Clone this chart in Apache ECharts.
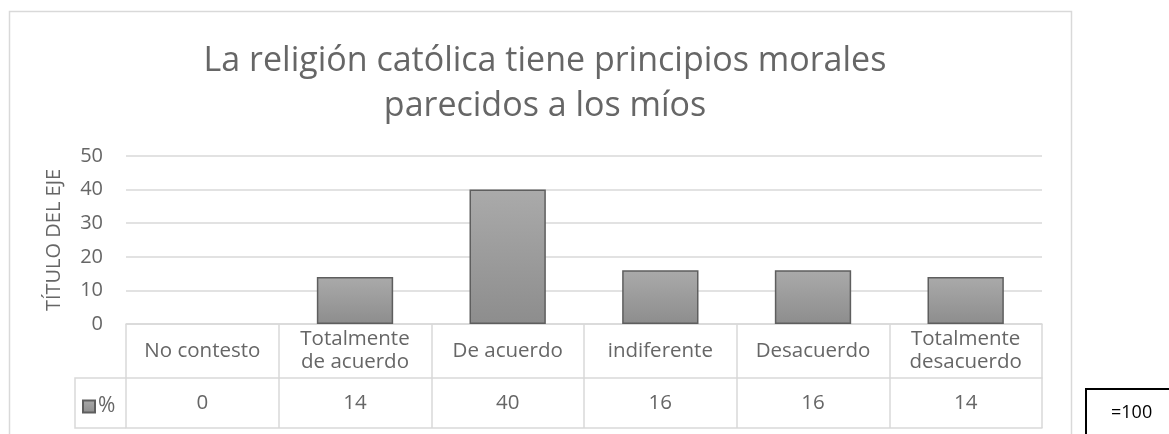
<!DOCTYPE html>
<html>
<head>
<meta charset="utf-8">
<script src="https://cdn.jsdelivr.net/npm/echarts@6/dist/echarts.min.js"></script>
<style>
  html, body { margin: 0; padding: 0; background: #fff; }
  #chart { width: 1169px; height: 434px; }
</style>
</head>
<body>
<div id="chart"></div>
<script>
// datos del gráfico
const categories = ['No contesto', 'Totalmente\nde acuerdo', 'De acuerdo', 'indiferente', 'Desacuerdo', 'Totalmente\ndesacuerdo']
const values = [0, 14, 40, 16, 16, 14]
const seriesName = '%'
const yTicks = { min: 0, max: 50, interval: 10 }

const FONT = '"Open Sans", sans-serif'
const TEXT = '#666666'
const LINE = '#d9d9d9'

const chart = echarts.init(document.getElementById('chart'))

// barras con valor 0 no se dibujan (sin borde)
const barData = values.map(v => (v === 0 ? { value: v, itemStyle: { borderWidth: 0 } } : v))

const option = {
  animation: false,
  title: {
    text: 'La religión católica tiene principios morales\nparecidos a los míos',
    left: 540,
    textAlign: 'center',
    top: 34,
    textStyle: {
      fontFamily: FONT,
      fontSize: 34,
      fontWeight: 'normal',
      color: TEXT,
      lineHeight: 45
    }
  },
  legend: {
    data: [seriesName],
    left: 82,
    top: 396,
    padding: 0,
    icon: 'rect',
    itemWidth: 12,
    itemHeight: 12,
    itemGap: 4,
    textStyle: { fontFamily: FONT, fontSize: 21, color: TEXT, padding: [0, 0, 0, -2] }
  },
  grid: {
    left: 126,
    right: 127,
    top: 156,
    bottom: 110,
    containLabel: false
  },
  xAxis: [
    {
      type: 'category',
      data: categories,
      position: 'bottom',
      axisLine: { show: true, lineStyle: { color: LINE, width: 1.5 } },
      axisTick: { show: true, length: 104, lineStyle: { color: LINE, width: 1.5 } },
      axisLabel: {
        fontFamily: FONT,
        fontSize: 20.5,
        color: TEXT,
        lineHeight: 23,
        verticalAlign: 'middle',
        margin: 27,
        interval: 0
      }
    },
    {
      type: 'category',
      data: categories,
      position: 'bottom',
      offset: 54,
      axisLine: { show: true, lineStyle: { color: LINE, width: 1.5 } },
      axisTick: { show: false },
      axisLabel: {
        fontFamily: FONT,
        fontSize: 20.5,
        color: TEXT,
        verticalAlign: 'middle',
        margin: 25,
        interval: 0,
        formatter: (v, i) => String(values[i])
      }
    },
    {
      type: 'category',
      data: categories,
      position: 'bottom',
      offset: 104,
      axisLine: { show: true, lineStyle: { color: LINE, width: 1.5 } },
      axisTick: { show: false },
      axisLabel: { show: false }
    }
  ],
  yAxis: {
    type: 'value',
    min: yTicks.min,
    max: yTicks.max,
    interval: yTicks.interval,
    name: 'TÍTULO DEL EJE',
    nameLocation: 'middle',
    nameRotate: 90,
    nameGap: 62,
    nameTextStyle: { fontFamily: FONT, fontSize: 20, color: TEXT },
    axisLine: { show: false },
    axisTick: { show: false },
    axisLabel: { fontFamily: FONT, fontSize: 20, color: TEXT, margin: 23 },
    splitLine: { lineStyle: { color: LINE, width: 1.5 } }
  },
  series: [
    {
      name: seriesName,
      type: 'bar',
      xAxisIndex: 0,
      data: barData,
      barWidth: '50%',
      itemStyle: {
        color: new echarts.graphic.LinearGradient(0, 0, 0, 1, [
          { offset: 0, color: '#aaaaaa' },
          { offset: 1, color: '#8d8d8d' }
        ]),
        borderColor: '#5e5e5e',
        borderWidth: 1.5
      }
    }
  ],
  graphic: [
    // marco del gráfico
    {
      type: 'rect',
      shape: { x: 9.5, y: 11.5, width: 1062, height: 440 },
      style: { fill: 'none', stroke: LINE, lineWidth: 1.5 },
      z: -1
    },
    // celda de leyenda de la tabla de datos
    {
      type: 'polyline',
      shape: { points: [[126, 378], [75, 378], [75, 428], [126, 428]] },
      style: { fill: 'none', stroke: LINE, lineWidth: 1.5 }
    },
    // caja "=100"
    {
      type: 'rect',
      shape: { x: 1086, y: 389, width: 100, height: 80 },
      style: { fill: '#fff', stroke: '#000', lineWidth: 2 }
    },
    {
      type: 'text',
      x: 1111,
      y: 413,
      style: {
        text: '=100',
        fontFamily: FONT,
        fontSize: 18,
        fill: '#000',
        verticalAlign: 'middle'
      }
    }
  ]
}

chart.setOption(option)
</script>
</body>
</html>
